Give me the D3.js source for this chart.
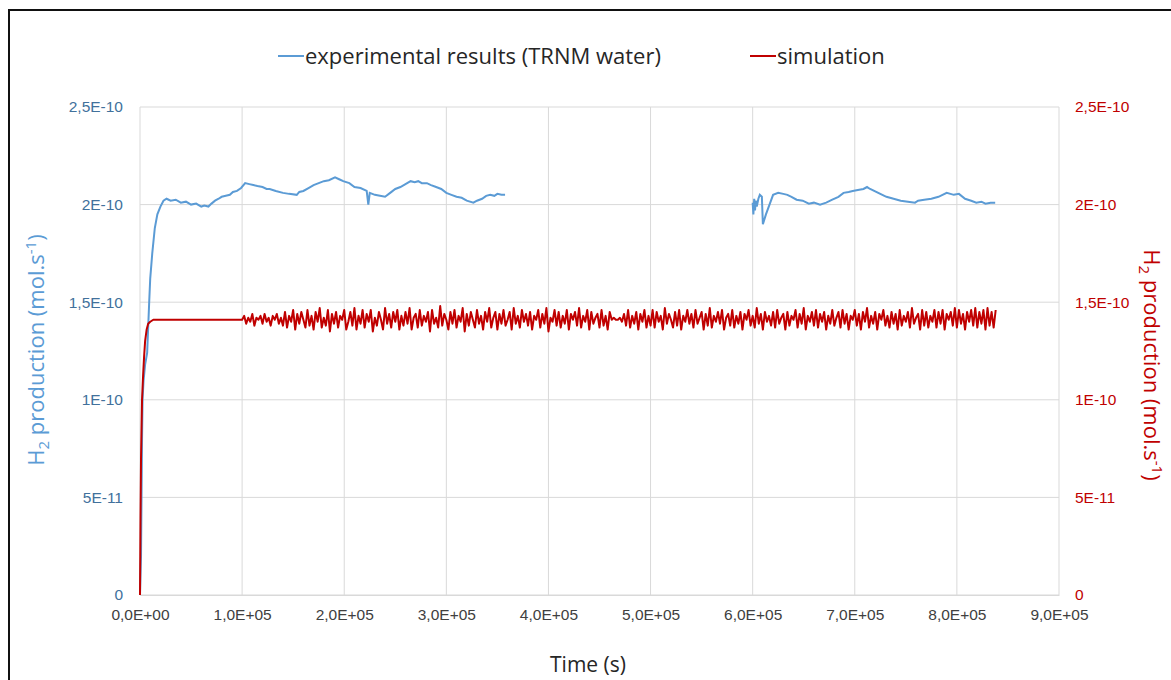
<!DOCTYPE html>
<html>
<head>
<meta charset="utf-8">
<title>H2 production</title>
<script src="https://d3js.org/d3.v7.min.js"></script>
<style>
body { margin: 0; padding: 0; background: #fff; }
svg { display: block; font-family: "Open Sans", "Noto Sans", sans-serif; }
</style>
</head>
<body>
<svg id="chart" width="1171" height="680"></svg>
<script>
// time ticks (s) and labels
var xTicks = [0, 100000, 200000, 300000, 400000, 500000, 600000, 700000, 800000, 900000];
var xTickLabels = ["0,0E+00","1,0E+05","2,0E+05","3,0E+05","4,0E+05","5,0E+05","6,0E+05","7,0E+05","8,0E+05","9,0E+05"];
// production values are in 1e-12 mol/s
var yTicks = [0, 50, 100, 150, 200, 250];
var yTickLabels = ["0","5E-11","1E-10","1,5E-10","2E-10","2,5E-10"];

// experimental results (TRNM water), first run
var exp1Time = [0,1000,1500,2000,2500,3500,5000,7000,9000,10000,12000,14500,17000,20000,23000,26000,30000,35000,40000,45000,50000,55000,60000,63000,67000,70000,73500,77000,80000,84000,88000,91000,95000,99000,103000,107000,111000,115000,120000,124000,127000,133000,140000,146000,153500,156000,160000,165000,170000,175000,180000,185000,191000,195000,199000,205000,210000,216000,222000,223600,225000,230000,235000,240000,245000,250000,255000,260000,265000,269000,272500,276000,281000,285000,290000,295000,300000,305000,310000,315000,320000,326500,330000,335000,339000,343000,347000,350000,354000,357500];
var exp1Val  = [0,20,50,80,100,110,118,124,150,162,175,188,195,199,202,203,202,202.5,201,201.5,200,200.5,199,199.5,199,200.5,202,203,204,204.5,205,206.5,207,208.5,211,210.5,210,209.5,209,208,208,207,206,205.5,205,206.5,207,208.5,210,211,212,212.5,214,213,212,211,209,208.5,207,200,206,205,204.5,204,206,208,209,210.5,212,211.5,212,211,211,210,209,208,206,205,204,203.5,202,201,202,203,204.5,205,204.5,205.5,205,205];
// second run
var exp2Time = [600000,600700,601500,602300,603000,604000,605600,607000,609000,610000,613000,620000,625000,630000,634000,638000,643000,649000,655000,660000,666000,672000,678000,684000,689000,694000,698000,703000,708500,712000,715000,719000,723000,727000,731000,738000,745000,752000,759000,762000,768000,775000,782000,790000,797000,802000,808000,814000,819000,824000,828000,833000,837500];
var exp2Val  = [201,195,203,197,202,199,203,205,204,190,195,205,206,205.5,205,204,202.5,202,200.5,201,200,201,202.5,204,206,206.5,207,207.5,208,209,208,207,206,205,204,203,202,201.5,201,202,202.5,203,204,206,205,205.5,203,202,201,201.5,200.5,201,201];

// simulation: start-up then sampled every 2000 s from 1,0E+05
var simRiseTime = [0,500,1000,2000,3000,4000,5000,6500,8000,10000,13000,30000,60000,99000];
var simRiseVal  = [0,40,70,100,112,122,130,136,139,140,141,141,141,141];
var simStart = 100000, simStep = 2000;
var simNoise = [
141,143,139,142,140,144,138,142,141,143,139,144,140,142,138,143,141,144,139,142,
138,145,137,143,140,146,136,144,139,145,141,137,146,138,143,136,145,140,147,137,
142,138,146,135,144,139,145,137,143,141,146,136,140,145,138,147,136,143,139,146,
137,144,140,146,135,142,138,145,141,136,147,139,144,137,145,140,146,136,143,138,
145,139,147,136,142,144,137,146,138,143,140,145,135,146,139,142,137,148,138,144,
141,136,145,139,146,137,143,140,147,135,144,138,145,141,137,146,139,143,136,145,
140,147,137,142,145,136,144,139,146,138,141,145,136,147,139,143,137,146,140,144,
138,145,136,143,141,146,137,144,139,147,135,142,140,146,138,145,137,143,139,146,
136,144,141,145,138,147,137,143,140,146,136,145,139,142,144,137,146,138,143,136,
145,141,142,141,141,142,140,144,138,146,137,143,139,145,136,144,140,146,137,143,
138,146,137,145,140,143,136,147,139,144,141,137,145,138,146,136,143,140,146,139,
144,137,146,139,142,145,136,144,138,147,137,143,140,145,139,146,136,142,144,138,
146,137,143,139,145,136,144,141,146,138,143,137,147,139,144,136,145,140,143,138,
145,137,146,139,142,144,136,145,138,143,141,146,137,144,139,147,136,143,140,145,
138,146,137,144,140,145,136,143,139,146,138,142,145,137,146,139,144,136,143,141,
146,138,144,136,145,140,147,137,143,139,145,136,144,141,146,138,143,137,145,139,
144,136,146,138,143,140,145,137,147,139,142,144,136,146,138,145,137,143,140,146,
137,145,139,146,136,144,141,145,138,147,137,146,139,144,136,145,140,146,138,147,
137,145,139,146,136,147,138,145,137,146];

var svg = d3.select("#chart");
var margin = {left: 140, right: 112, top: 107, bottom: 85};
var width = 1171 - margin.left - margin.right,
    height = 680 - margin.top - margin.bottom;

var x = d3.scaleLinear().domain([0, 900000]).range([0, width]);
var y = d3.scaleLinear().domain([0, 250]).range([height, 0]);

// frame round the figure
svg.append("rect")
  .attr("x", 9).attr("y", 10)
  .attr("width", 1200).attr("height", 720)
  .attr("fill", "none").attr("stroke", "#111").attr("stroke-width", 2);

var g = svg.append("g").attr("transform", "translate(" + margin.left + "," + margin.top + ")");

// gridlines
g.append("g").selectAll("line").data(xTicks).enter().append("line")
  .attr("x1", d => x(d)).attr("x2", d => x(d))
  .attr("y1", 0).attr("y2", height)
  .attr("stroke", "#d9d9d9").attr("stroke-width", 1);
g.append("g").selectAll("line").data(yTicks).enter().append("line")
  .attr("x1", 0).attr("x2", width)
  .attr("y1", d => y(d)).attr("y2", d => y(d))
  .attr("stroke", "#d9d9d9").attr("stroke-width", 1);

// axes
var xAxis = d3.axisBottom(x).tickValues(xTicks).tickSize(0).tickPadding(14)
  .tickFormat((d, i) => xTickLabels[i]);
var gx = g.append("g").attr("transform", "translate(0," + height + ")").call(xAxis);
gx.select(".domain").attr("stroke", "#d9d9d9");
gx.selectAll("text").attr("fill", "#404040").style("font-size", "15.5px");

var yLeft = d3.axisLeft(y).tickValues(yTicks).tickSize(0).tickPadding(17)
  .tickFormat((d, i) => yTickLabels[i]);
var gyl = g.append("g").call(yLeft);
gyl.select(".domain").remove();
gyl.selectAll("text").attr("fill", "#41719c").style("font-size", "15.5px");

var yRight = d3.axisRight(y).tickValues(yTicks).tickSize(0).tickPadding(16)
  .tickFormat((d, i) => yTickLabels[i]);
var gyr = g.append("g").attr("transform", "translate(" + width + ",0)").call(yRight);
gyr.select(".domain").remove();
gyr.selectAll("text").attr("fill", "#c00000").style("font-size", "15.5px");

// lines
var line = d3.line().x(d => x(d[0])).y(d => y(d[1]));
var exp1 = exp1Time.map((t, i) => [t, exp1Val[i]]);
var exp2 = exp2Time.map((t, i) => [t, exp2Val[i]]);
var sim = simRiseTime.map((t, i) => [t, simRiseVal[i]])
  .concat(simNoise.map((v, i) => [simStart + i * simStep, v]));

g.append("path").datum(exp1).attr("d", line)
  .attr("fill", "none").attr("stroke", "#5b9bd5").attr("stroke-width", 2);
g.append("path").datum(exp2).attr("d", line)
  .attr("fill", "none").attr("stroke", "#5b9bd5").attr("stroke-width", 2);
g.append("path").datum(sim).attr("d", line)
  .attr("fill", "none").attr("stroke", "#c00000").attr("stroke-width", 2)
  .attr("stroke-linejoin", "round");

// legend
var legend = [
  {name: "experimental results (TRNM water)", color: "#5b9bd5", x: 278},
  {name: "simulation", color: "#c00000", x: 750}
];
var lg = svg.append("g").selectAll("g").data(legend).enter().append("g")
  .attr("transform", d => "translate(" + d.x + ",56)");
lg.append("line").attr("x1", 0).attr("x2", 26).attr("y1", 0).attr("y2", 0)
  .attr("stroke", d => d.color).attr("stroke-width", 2);
lg.append("text").attr("x", 27).attr("dy", "0.35em")
  .style("font-size", "22px").attr("fill", "#262626")
  .text(d => d.name);

// axis titles
svg.append("text")
  .attr("x", 588).attr("y", 672)
  .attr("text-anchor", "middle").style("font-size", "21px").attr("fill", "#262626")
  .text("Time (s)");

function yTitle(xp, yp, rot, color) {
  var t = svg.append("text")
    .attr("transform", "translate(" + xp + "," + yp + ") rotate(" + rot + ")")
    .attr("text-anchor", "middle").style("font-size", "22px").attr("fill", color);
  t.append("tspan").text("H");
  t.append("tspan").attr("dy", 5).style("font-size", "15px").text("2");
  t.append("tspan").attr("dy", -5).text(" production (mol.s");
  t.append("tspan").attr("dy", -8).style("font-size", "15px").text("-1");
  t.append("tspan").attr("dy", 8).text(")");
}
yTitle(44, 350, -90, "#5b9bd5");
yTitle(1144, 365, 90, "#c00000");
</script>
</body>
</html>
